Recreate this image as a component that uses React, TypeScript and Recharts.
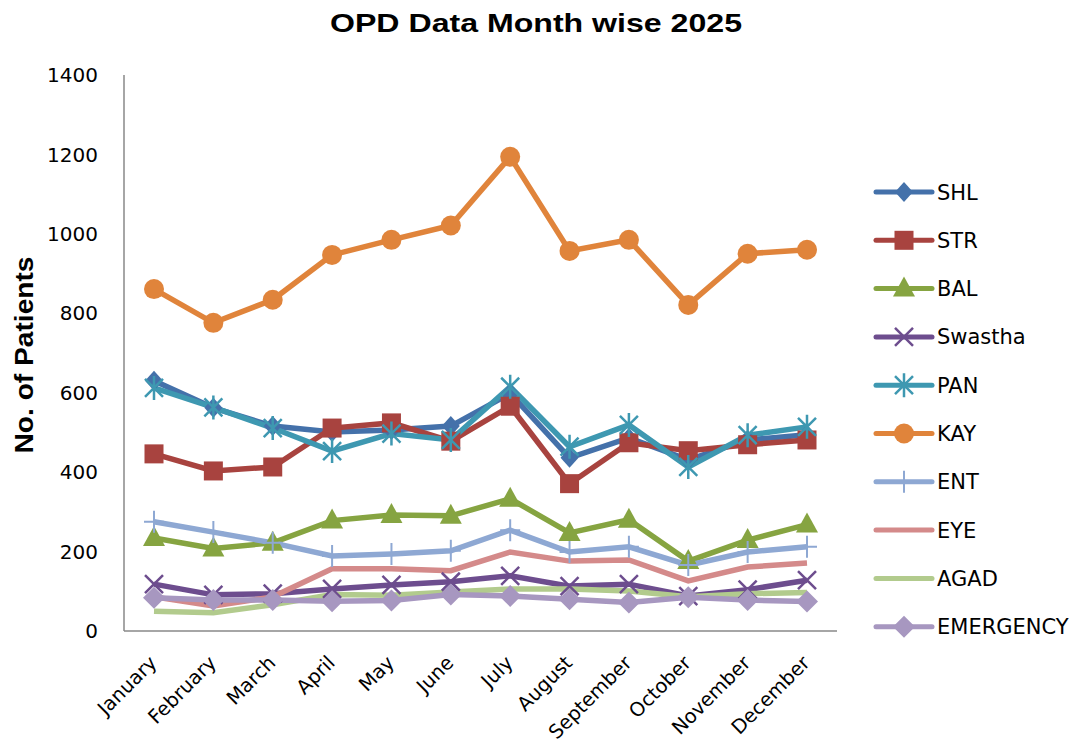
import React from 'react';
import { LineChart, Line, XAxis, YAxis } from 'recharts';

const months = ['January', 'February', 'March', 'April', 'May', 'June', 'July', 'August', 'September', 'October', 'November', 'December'];
const yTicks = [0, 200, 400, 600, 800, 1000, 1200, 1400];

const shl = [630, 562, 516, 501, 506, 516, 598, 436, 486, 431, 481, 494];
const str = [446, 403, 413, 511, 524, 478, 566, 371, 474, 454, 469, 481];
const bal = [234, 208, 222, 278, 292, 290, 333, 247, 280, 176, 229, 268];
const swastha = [118, 91, 94, 106, 116, 124, 139, 113, 118, 88, 104, 128];
const pan = [612, 563, 511, 453, 497, 481, 615, 464, 519, 413, 493, 514];
const kay = [861, 776, 834, 947, 985, 1021, 1194, 957, 985, 821, 950, 960];
const ent = [275, 249, 222, 189, 194, 202, 254, 199, 212, 166, 199, 212];
const eye = [86, 63, 86, 157, 157, 152, 199, 176, 179, 126, 161, 171];
const agad = [50, 46, 66, 92, 90, 98, 106, 106, 101, 86, 94, 97];
const emergency = [84, 78, 78, 75, 77, 92, 88, 80, 72, 85, 78, 74];

const seriesNames = ['SHL', 'STR', 'BAL', 'Swastha', 'PAN', 'KAY', 'ENT', 'EYE', 'AGAD', 'EMERGENCY'];
const seriesValues = [shl, str, bal, swastha, pan, kay, ent, eye, agad, emergency];

const seriesStyle: Record<string, { color: string; shape: string }> = {
  SHL: { color: '#4471AA', shape: 'diamond' },
  STR: { color: '#A8433F', shape: 'square' },
  BAL: { color: '#86A441', shape: 'triangle' },
  Swastha: { color: '#6D4D8E', shape: 'x' },
  PAN: { color: '#3E98B1', shape: 'star' },
  KAY: { color: '#E0843B', shape: 'circle' },
  ENT: { color: '#8EA8D3', shape: 'plus' },
  EYE: { color: '#D48A8A', shape: 'none' },
  AGAD: { color: '#B2CB8D', shape: 'none' },
  EMERGENCY: { color: '#A797C0', shape: 'bigdiamond' },
};

const data = months.map((m, i) => {
  const row: Record<string, any> = { month: m };
  seriesNames.forEach((n, k) => {
    row[n] = seriesValues[k][i];
  });
  return row;
});

function Marker({ shape, cx, cy, color }: { shape: string; cx: number; cy: number; color: string }) {
  switch (shape) {
    case 'diamond':
      return <polygon points={`${cx},${cy - 10} ${cx + 9},${cy} ${cx},${cy + 10} ${cx - 9},${cy}`} fill={color} />;
    case 'bigdiamond':
      return <polygon points={`${cx},${cy - 11} ${cx + 11},${cy} ${cx},${cy + 11} ${cx - 11},${cy}`} fill={color} />;
    case 'square':
      return <rect x={cx - 9.5} y={cy - 9.5} width={19} height={19} fill={color} />;
    case 'triangle':
      return <polygon points={`${cx},${cy - 12} ${cx + 11},${cy + 8} ${cx - 11},${cy + 8}`} fill={color} />;
    case 'x':
      return (
        <path d={`M${cx - 9},${cy - 9}L${cx + 9},${cy + 9}M${cx + 9},${cy - 9}L${cx - 9},${cy + 9}`} stroke={color} strokeWidth={2.5} fill="none" />
      );
    case 'star':
      return (
        <path
          d={`M${cx - 9},${cy - 9}L${cx + 9},${cy + 9}M${cx + 9},${cy - 9}L${cx - 9},${cy + 9}M${cx},${cy - 12}L${cx},${cy + 12}`}
          stroke={color}
          strokeWidth={2.5}
          fill="none"
        />
      );
    case 'circle':
      return <circle cx={cx} cy={cy} r={10} fill={color} />;
    case 'plus':
      return <path d={`M${cx},${cy - 11}L${cx},${cy + 11}M${cx - 10},${cy}L${cx + 10},${cy}`} stroke={color} strokeWidth={2} fill="none" />;
    default:
      return null;
  }
}

const XTick = (props: any) => {
  const { x, y, payload } = props;
  const tx = x + 4;
  const ty = y + 25;
  return (
    <text
      x={tx}
      y={ty}
      transform={`rotate(-45, ${tx}, ${ty})`}
      textAnchor="end"
      fontFamily="DejaVu Sans"
      fontSize={19.5}
      fill="#000"
    >
      {payload.value}
    </text>
  );
};

const legendX = 876;
const legendTop = 192;
const legendStep = 48.3;

export default function App() {
  return (
    <div style={{ position: 'absolute', left: 0, top: 0, width: 1078, height: 752, background: '#fff' }}>
      <LineChart
        width={1078}
        height={752}
        data={data}
        margin={{ top: 75, right: 241, bottom: 21, left: 64 }}
      >
        <XAxis
          dataKey="month"
          height={100}
          stroke="#888"
          strokeWidth={1.5}
          tickLine={false}
          tick={<XTick />}
          interval={0}
          padding={{ left: 30, right: 30 }}
        />
        <YAxis
          width={60}
          domain={[0, 1400]}
          ticks={yTicks}
          stroke="#888"
          strokeWidth={1.5}
          tickLine={false}
          tickSize={0}
          tickMargin={26}
          tick={{ fontFamily: 'DejaVu Sans', fontSize: 20, fill: '#000' }}
          interval={0}
        />
        {seriesNames.map((n) => {
          const st = seriesStyle[n];
          return (
            <Line
              key={n}
              dataKey={n}
              stroke={st.color}
              strokeWidth={5.5}
              isAnimationActive={false}
              activeDot={false}
              dot={
                st.shape === 'none'
                  ? false
                  : (p: any) => <Marker key={`${n}-${p.index}`} shape={st.shape} cx={p.cx} cy={p.cy} color={st.color} />
              }
            />
          );
        })}
      </LineChart>
      <svg width={1078} height={752} style={{ position: 'absolute', left: 0, top: 0, pointerEvents: 'none' }}>
        <text
          x={536}
          y={32}
          textAnchor="middle"
          fontFamily="Liberation Sans"
          fontWeight="bold"
          fontSize={26}
          textLength={412}
          lengthAdjust="spacingAndGlyphs"
          fill="#000"
        >
          OPD Data Month wise 2025
        </text>
        <text
          x={0}
          y={0}
          transform="translate(33, 355) rotate(-90)"
          textAnchor="middle"
          fontFamily="Liberation Sans"
          fontWeight="bold"
          fontSize={26}
          textLength={197}
          lengthAdjust="spacingAndGlyphs"
          fill="#000"
        >
          No. of Patients
        </text>
        {seriesNames.map((n, i) => {
          const st = seriesStyle[n];
          const cy = legendTop + i * legendStep;
          return (
            <g key={n}>
              <line x1={legendX} y1={cy} x2={legendX + 56} y2={cy} stroke={st.color} strokeWidth={5} strokeLinecap="round" />
              <Marker shape={st.shape} cx={legendX + 28} cy={cy} color={st.color} />
              <text x={937} y={cy + 7.5} fontFamily="DejaVu Sans" fontSize={21} fill="#000">
                {n}
              </text>
            </g>
          );
        })}
      </svg>
    </div>
  );
}
